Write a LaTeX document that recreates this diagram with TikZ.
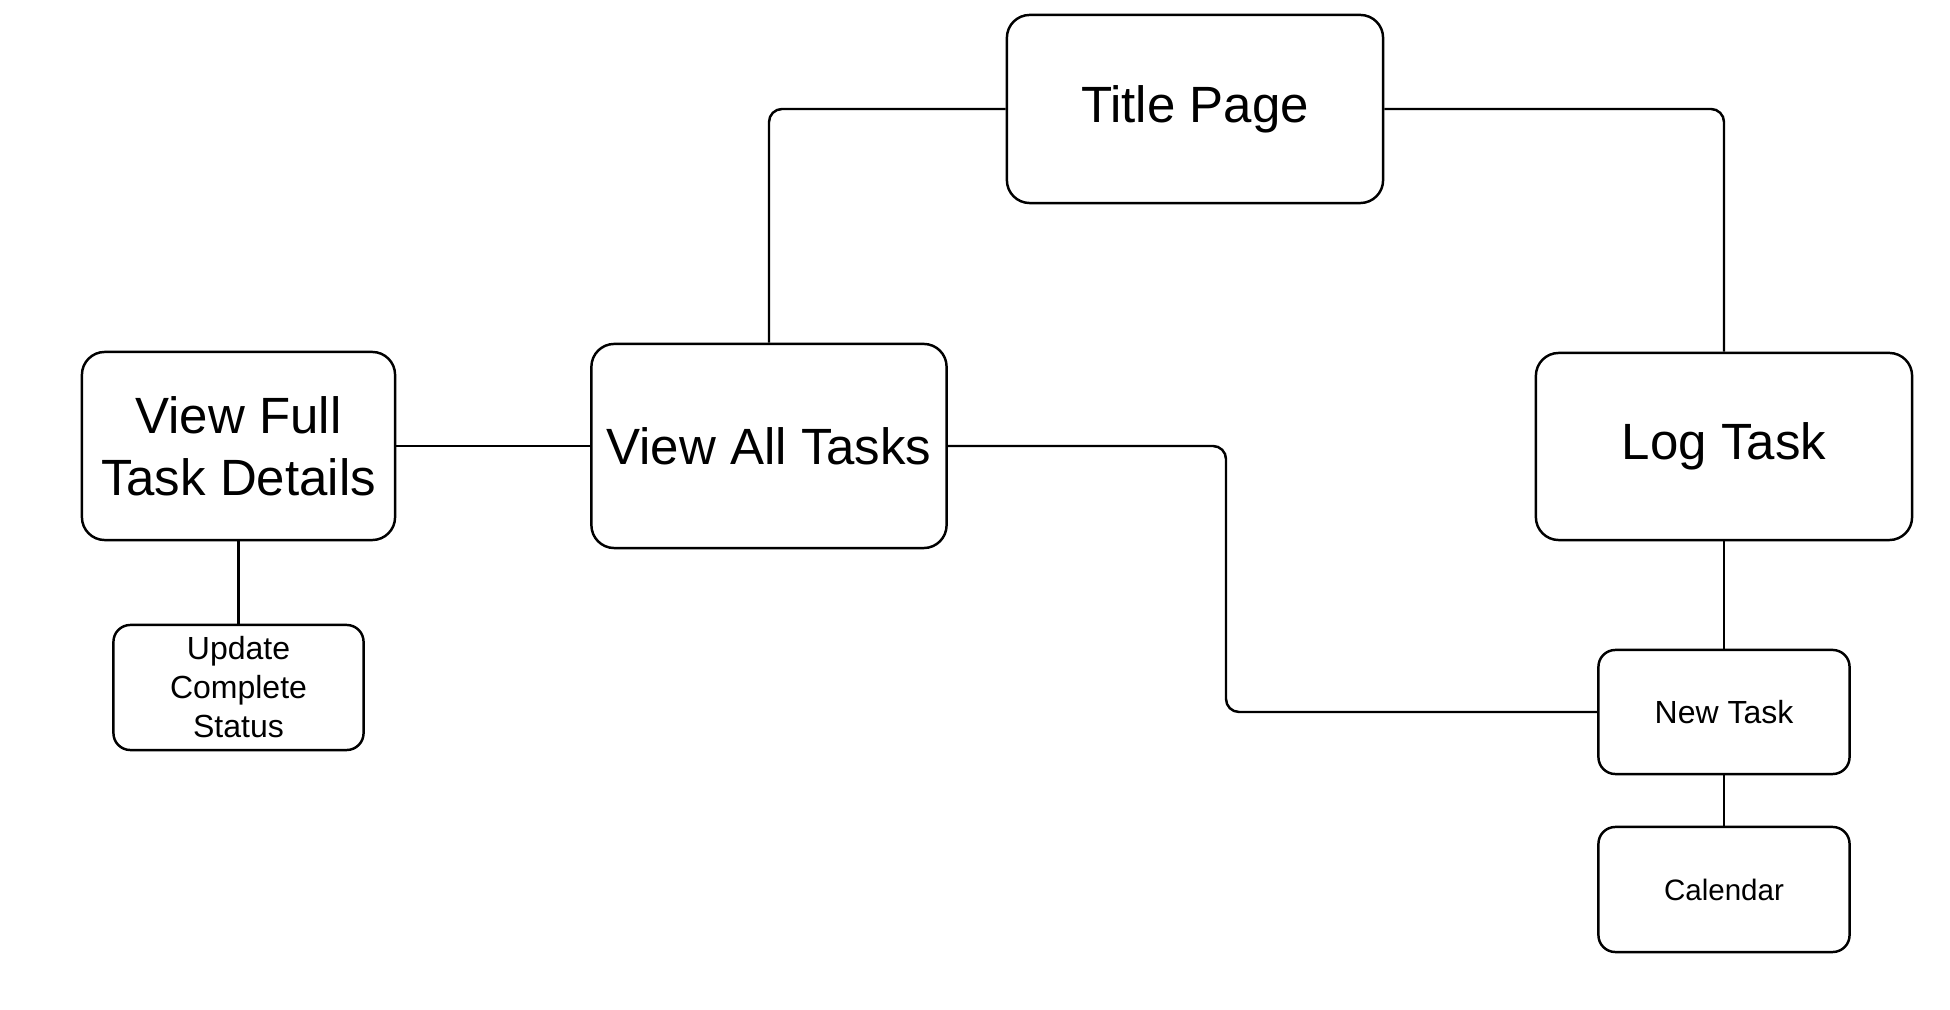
\documentclass[tikz,border=0pt]{standalone}
\usepackage{fontspec}
\setmainfont{Liberation Sans}
\usetikzlibrary{calc}

\begin{document}
\begin{tikzpicture}[x=0.01cm,y=-0.01cm,
		box/.style={draw, line width=0.7pt, rounded corners=6.5pt, align=center, inner sep=0pt},
		bigbox/.style={box, font=\fontsize{14.5}{17.6}\selectfont},
		smallbox/.style={box, rounded corners=4.8pt, font=\fontsize{9.1}{11.1}\selectfont},
		link/.style={line width=0.7pt, rounded corners=3.7pt}]
			\useasboundingbox (0,0) rectangle (1950,1010);
			% screens
			\node[bigbox, minimum width=3.76cm, minimum height=1.88cm] (title) at (1195,109) {Title Page};
			\node[bigbox, minimum width=3.55cm, minimum height=2.04cm] (alltasks) at (769,446) {View All Tasks};
			\node[bigbox, minimum width=3.13cm, minimum height=1.88cm] (fulldetails) at (238.5,446) {View Full\\Task Details};
			\node[bigbox, minimum width=3.76cm, minimum height=1.87cm] (logtask) at (1724,446.5) {Log Task};
			\node[smallbox, minimum width=2.50cm, minimum height=1.25cm] (update) at (238.5,687.5) {Update\\Complete\\Status};
			\node[smallbox, minimum width=2.51cm, minimum height=1.24cm] (newtask) at (1724,712) {New Task};
			\node[smallbox, minimum width=2.51cm, minimum height=1.25cm, font=\fontsize{8.4}{10}\selectfont] (calendar) at (1724,889.5) {Calendar};
			\coordinate (bend) at (1226,0);
			% links between screens
			\draw[link] (title.west) -- (alltasks.north |- title.west) -- (alltasks.north);
			\draw[link] (title.east) -- (logtask.north |- title.east) -- (logtask.north);
			\draw[link] (fulldetails.east) -- (alltasks.west);
			\draw[link] (alltasks.east) -- (bend |- alltasks.east) -- (bend |- newtask.west) -- (newtask.west);
			\draw[link] (fulldetails.south) -- (update.north);
			\draw[link] (logtask.south) -- (newtask.north);
			\draw[link] (newtask.south) -- (calendar.north);
		\end{tikzpicture}
\end{document}
